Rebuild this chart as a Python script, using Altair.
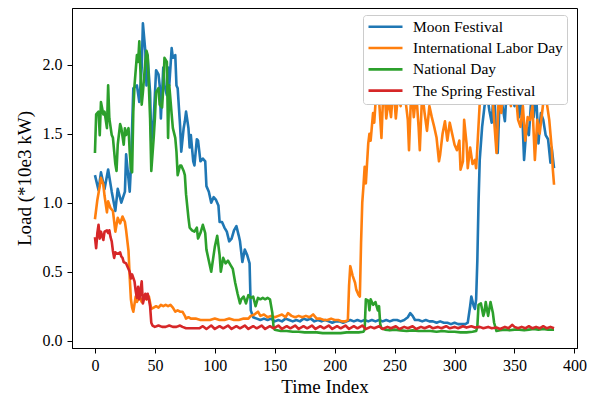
import altair as alt
import pandas as pd

names = ["Moon Festival", "International Labor Day", "National Day", "The Spring Festival"]
colors = ["#1f77b4", "#ff7f0e", "#2ca02c", "#d62728"]

x_ticks = [0, 50, 100, 150, 200, 250, 300, 350, 400]
y_ticks = [0.0, 0.5, 1.0, 1.5, 2.0]

moon_x = [0, 3, 5, 8, 11, 14, 17, 19, 22, 25, 26, 29, 30, 32, 35, 37, 39, 40, 42, 43,
          44, 46, 47, 49, 50, 51, 53, 54, 55, 57, 58, 60, 61, 62, 64, 65, 67, 68, 69, 71,
          72, 74, 75, 76, 78, 79, 80, 82, 83, 85, 86, 88, 90, 92, 93, 95, 97, 99, 101, 103,
          104, 106, 108, 110, 112, 114, 116, 118, 120, 121, 123, 125, 127, 129, 130, 132, 135, 138, 141, 144,
          147, 150, 153, 156, 159, 162, 165, 168, 171, 174, 177, 180, 183, 186, 189, 192, 195, 198, 201, 204,
          207, 210, 213, 216, 219, 222, 225, 228, 231, 234, 237, 240, 243, 246, 249, 252, 255, 258, 261, 263,
          265, 267, 270, 273, 276, 279, 282, 285, 288, 291, 294, 297, 300, 303, 306, 309, 311, 313, 314, 316,
          317, 318, 319, 320, 321, 323, 325, 327, 329, 331, 333, 335, 336, 338, 340, 342, 344, 346, 348, 350,
          352, 354, 356, 358, 360, 362, 364, 366, 368, 370, 372, 374, 376, 378, 380, 381, 383]
moon_y = [1.20, 1.09, 1.22, 1.10, 1.24, 1.08, 0.94, 1.10, 1.00, 1.08, 1.35, 1.08, 1.26, 1.83, 1.85, 1.73, 1.98, 2.30, 2.10, 1.85,
          2.05, 1.80, 1.44, 1.61, 1.78, 1.96, 1.93, 1.85, 1.61, 1.98, 1.85, 1.78, 1.98, 1.85, 2.12, 2.05, 2.07, 1.85, 1.83, 1.56,
          1.37, 1.54, 1.59, 1.66, 1.54, 1.40, 1.49, 1.30, 1.27, 1.46, 1.45, 1.30, 1.32, 1.30, 1.12, 1.08, 1.00, 1.04, 1.02, 0.98,
          0.86, 0.86, 0.82, 0.79, 0.72, 0.74, 0.80, 0.83, 0.76, 0.72, 0.57, 0.66, 0.62, 0.56, 0.22, 0.17, 0.16, 0.15, 0.16, 0.15,
          0.16, 0.14, 0.15, 0.14, 0.16, 0.15, 0.14, 0.15, 0.14, 0.16, 0.15, 0.16, 0.14, 0.15, 0.14, 0.15, 0.14, 0.13, 0.14, 0.14,
          0.13, 0.14, 0.15, 0.14, 0.15, 0.14, 0.15, 0.14, 0.15, 0.14, 0.15, 0.14, 0.15, 0.14, 0.15, 0.15, 0.14, 0.15, 0.17, 0.20,
          0.18, 0.15, 0.15, 0.14, 0.15, 0.14, 0.14, 0.13, 0.14, 0.13, 0.13, 0.12, 0.13, 0.12, 0.12, 0.12, 0.13, 0.25, 0.32, 0.25,
          0.23, 0.30, 0.58, 1.00, 1.31, 1.55, 1.70, 1.80, 1.67, 1.58, 1.85, 1.40, 1.36, 1.85, 1.70, 1.59, 1.90, 1.75, 1.85, 1.70,
          1.80, 1.62, 1.75, 1.31, 1.55, 1.49, 1.75, 1.62, 1.80, 1.43, 1.65, 1.60, 1.49, 1.46, 1.29, 1.40, 1.25]

labor_x = [0, 2, 4, 5, 7, 8, 10, 11, 13, 15, 17, 19, 21, 23, 25, 26, 28, 29, 30, 31,
           32, 34, 35, 37, 39, 41, 43, 45, 47, 49, 51, 53, 55, 57, 59, 61, 63, 65, 67, 69,
           71, 73, 75, 76, 78, 80, 84, 88, 92, 96, 100, 104, 108, 112, 116, 120, 124, 128, 130, 133,
           136, 138, 141, 144, 147, 150, 153, 156, 159, 161, 164, 167, 170, 173, 176, 179, 182, 185, 188, 191,
           194, 197, 200, 203, 206, 209, 211, 212, 213, 215, 217, 218, 220, 221, 222, 223, 224, 225, 226, 228,
           229, 230, 232, 233, 235, 237, 239, 241, 243, 245, 247, 249, 251, 253, 255, 257, 259, 261, 262, 264,
           266, 268, 270, 271, 273, 275, 277, 279, 281, 283, 285, 287, 288, 290, 292, 294, 296, 298, 300, 302,
           304, 305, 307, 308, 310, 311, 313, 315, 317, 318, 319, 321, 323, 325, 327, 329, 331, 333, 335, 337,
           339, 341, 343, 345, 347, 349, 351, 353, 355, 357, 359, 361, 363, 365, 367, 369, 371, 373, 375, 377,
           379, 381, 382, 383]
labor_y = [0.88, 1.02, 1.12, 1.18, 1.13, 1.05, 0.93, 1.01, 0.96, 0.94, 0.79, 0.89, 0.85, 0.90, 0.86, 0.80, 0.65, 0.46, 0.30, 0.24,
           0.21, 0.32, 0.28, 0.32, 0.28, 0.33, 0.30, 0.32, 0.23, 0.24, 0.25, 0.24, 0.26, 0.25, 0.26, 0.25, 0.26, 0.24, 0.21, 0.22,
           0.21, 0.21, 0.18, 0.16, 0.17, 0.16, 0.16, 0.15, 0.15, 0.15, 0.16, 0.15, 0.15, 0.16, 0.15, 0.15, 0.16, 0.16, 0.18, 0.19,
           0.21, 0.18, 0.19, 0.17, 0.18, 0.17, 0.18, 0.19, 0.17, 0.20, 0.18, 0.17, 0.18, 0.17, 0.18, 0.17, 0.19, 0.16, 0.16, 0.15,
           0.15, 0.16, 0.15, 0.15, 0.14, 0.14, 0.15, 0.40, 0.54, 0.47, 0.42, 0.37, 0.33, 0.32, 0.71, 1.00, 1.12, 1.26, 1.14, 1.43,
           1.50, 1.45, 1.65, 1.58, 1.85, 1.75, 1.47, 1.90, 1.61, 1.75, 1.62, 1.85, 1.61, 1.80, 1.70, 1.95, 1.75, 1.60, 1.38, 1.85,
           1.62, 1.80, 1.55, 1.38, 1.80, 1.65, 1.52, 1.70, 1.62, 1.55, 1.47, 1.30, 1.35, 1.50, 1.59, 1.45, 1.58, 1.50, 1.42, 1.38,
           1.45, 1.24, 1.30, 1.60, 1.43, 1.25, 1.40, 1.28, 1.31, 1.25, 1.40, 1.72, 1.90, 1.80, 1.95, 1.75, 1.85, 1.60, 1.36, 1.80,
           1.65, 1.90, 1.75, 1.85, 1.70, 1.90, 1.80, 1.60, 1.55, 1.70, 1.45, 1.62, 1.60, 1.70, 1.31, 1.60, 1.50, 1.65, 1.80, 1.72,
           1.60, 1.40, 1.24, 1.13]

national_x = [0, 1, 3, 4, 5, 7, 8, 10, 11, 12, 14, 15, 17, 18, 19, 21, 22, 24, 25, 26,
              28, 29, 30, 31, 32, 33, 35, 36, 37, 39, 40, 42, 43, 44, 46, 47, 49, 50, 51, 53,
              54, 56, 57, 58, 60, 61, 62, 64, 65, 67, 68, 69, 71, 72, 74, 75, 76, 78, 79, 81,
              83, 85, 86, 88, 90, 92, 93, 95, 97, 99, 100, 102, 104, 105, 107, 109, 111, 113, 115, 117,
              119, 121, 122, 124, 126, 128, 130, 132, 134, 136, 138, 140, 142, 144, 146, 148, 149, 150, 155, 160,
              165, 170, 175, 180, 185, 190, 195, 200, 205, 210, 215, 220, 224, 225, 226, 228, 229, 230, 232, 234,
              236, 237, 238, 239, 242, 246, 250, 255, 260, 265, 270, 275, 280, 285, 290, 295, 300, 305, 310, 315,
              318, 319, 320, 322, 324, 325, 326, 328, 330, 332, 333, 335, 338, 342, 346, 350, 354, 358, 362, 366,
              370, 374, 378, 383]
national_y = [1.36, 1.64, 1.66, 1.49, 1.73, 1.64, 1.66, 1.54, 1.85, 1.61, 1.49, 1.47, 1.28, 1.23, 1.42, 1.57, 1.54, 1.42, 1.54, 1.49,
              1.54, 1.37, 1.25, 1.22, 1.66, 1.85, 2.07, 2.02, 2.17, 1.71, 1.80, 2.02, 2.10, 2.07, 1.61, 1.23, 1.47, 1.61, 1.80, 1.83,
              1.71, 1.69, 1.83, 2.05, 2.02, 1.47, 1.85, 1.64, 1.54, 1.47, 1.37, 1.20, 1.27, 1.27, 1.23, 1.20, 1.06, 0.89, 0.82, 0.80,
              0.79, 0.82, 0.74, 0.78, 0.84, 0.78, 0.66, 0.58, 0.50, 0.62, 0.68, 0.76, 0.62, 0.50, 0.60, 0.56, 0.58, 0.55, 0.52, 0.42,
              0.34, 0.27, 0.30, 0.32, 0.27, 0.33, 0.31, 0.32, 0.25, 0.31, 0.30, 0.31, 0.30, 0.31, 0.30, 0.20, 0.10, 0.08, 0.07, 0.07,
              0.065, 0.065, 0.06, 0.06, 0.06, 0.055, 0.055, 0.055, 0.055, 0.06, 0.06, 0.06, 0.065, 0.08, 0.30, 0.29, 0.22, 0.30, 0.26, 0.28,
              0.22, 0.25, 0.12, 0.09, 0.08, 0.075, 0.08, 0.075, 0.07, 0.075, 0.07, 0.07, 0.07, 0.065, 0.07, 0.065, 0.065, 0.06, 0.06, 0.065,
              0.07, 0.10, 0.26, 0.27, 0.18, 0.21, 0.28, 0.18, 0.28, 0.20, 0.13, 0.07, 0.075, 0.08, 0.075, 0.08, 0.08, 0.075, 0.08, 0.085,
              0.08, 0.085, 0.08, 0.08]

spring_x = [0, 1, 2, 3, 4, 5, 6, 7, 8, 10, 11, 12, 13, 14, 15, 16, 17, 19, 21, 22,
            23, 24, 26, 27, 28, 29, 30, 31, 33, 34, 35, 36, 37, 39, 40, 42, 43, 44, 45, 46,
            47, 48, 50, 53, 56, 59, 62, 65, 68, 71, 73, 76, 80, 84, 87, 90, 93, 97, 100, 104,
            107, 111, 114, 118, 121, 125, 128, 132, 135, 139, 142, 146, 149, 153, 156, 160, 163, 167, 170, 174,
            177, 181, 184, 188, 191, 195, 198, 202, 205, 209, 212, 216, 219, 223, 226, 230, 233, 237, 240, 244,
            247, 251, 254, 258, 261, 265, 268, 272, 275, 279, 282, 286, 289, 293, 296, 300, 303, 307, 310, 314,
            317, 321, 324, 328, 331, 335, 338, 342, 345, 348, 350, 353, 356, 359, 362, 365, 368, 371, 374, 377,
            380, 383]
spring_y = [0.75, 0.67, 0.78, 0.84, 0.74, 0.79, 0.76, 0.73, 0.79, 0.80, 0.78, 0.80, 0.75, 0.72, 0.65, 0.60, 0.64, 0.63, 0.64, 0.61,
            0.60, 0.57, 0.56, 0.54, 0.52, 0.50, 0.45, 0.48, 0.43, 0.36, 0.31, 0.39, 0.30, 0.43, 0.27, 0.34, 0.30, 0.34, 0.30, 0.25,
            0.13, 0.11, 0.10, 0.11, 0.10, 0.10, 0.11, 0.10, 0.10, 0.11, 0.10, 0.09, 0.09, 0.09, 0.09, 0.105, 0.085, 0.11, 0.085, 0.105,
            0.09, 0.11, 0.085, 0.105, 0.09, 0.11, 0.085, 0.105, 0.09, 0.11, 0.085, 0.105, 0.09, 0.11, 0.085, 0.105, 0.09, 0.11, 0.085, 0.105,
            0.09, 0.11, 0.085, 0.105, 0.09, 0.11, 0.085, 0.105, 0.09, 0.11, 0.085, 0.105, 0.09, 0.11, 0.085, 0.10, 0.09, 0.105, 0.085, 0.10,
            0.09, 0.105, 0.085, 0.10, 0.09, 0.105, 0.085, 0.10, 0.09, 0.105, 0.09, 0.10, 0.09, 0.105, 0.09, 0.10, 0.09, 0.105, 0.095, 0.105,
            0.095, 0.10, 0.09, 0.10, 0.09, 0.095, 0.085, 0.10, 0.09, 0.115, 0.10, 0.09, 0.10, 0.09, 0.105, 0.09, 0.10, 0.09, 0.105, 0.09,
            0.10, 0.09]

series = [
    (names[0], moon_x, moon_y),
    (names[1], labor_x, labor_y),
    (names[2], national_x, national_y),
    (names[3], spring_x, spring_y),
]

FONT = "Liberation Serif"
x_scale = alt.Scale(domain=[-19.15, 402.15], nice=False, zero=False)
y_scale = alt.Scale(domain=[-0.053, 2.411], nice=False, zero=False)
color_scale = alt.Scale(domain=names, range=colors)

layers = []
for name, xs, ys in series:
    df = pd.DataFrame({"x": xs, "y": ys, "series": name})
    layer = alt.Chart(df).mark_line(strokeWidth=2.6, clip=True, strokeJoin="round").encode(
        x=alt.X("x:Q", scale=x_scale,
                axis=alt.Axis(values=x_ticks, format="d", title="Time Index",
                              labelFont=FONT, titleFont=FONT, labelFontSize=16, titleFontSize=19,
                              labelPadding=4, titlePadding=4)),
        y=alt.Y("y:Q", scale=y_scale,
                axis=alt.Axis(values=y_ticks, format=".1f", title="Load (*10e3 kW)",
                              labelFont=FONT, titleFont=FONT, labelFontSize=16, titleFontSize=19,
                              labelPadding=5, titlePadding=8)),
        color=alt.Color("series:N", scale=color_scale,
                        legend=alt.Legend(title=None, orient="none", legendX=291, legendY=7,
                                          fillColor="white", strokeColor="#cccccc", cornerRadius=3,
                                          padding=4, symbolType="stroke", symbolSize=1156,
                                          symbolStrokeWidth=2.6, clipHeight=15.5,
                                          labelFont=FONT, labelFontSize=15.5, labelColor="black",
                                          rowPadding=4.3, labelOffset=9)),
    )
    layers.append(layer)

chart = alt.layer(*layers).properties(
    width=505, height=340,
    padding={"left": 64, "top": 0, "right": 10, "bottom": 48},
    autosize=alt.AutoSizeParams(type="none"),
).configure_view(stroke="black", strokeWidth=1).configure_axis(
    grid=False, domainColor="black", tickColor="black", domainWidth=1, tickWidth=1,
    labelColor="black", titleColor="black",
    titleFontWeight="normal", tickSize=5, labelOverlap=False,
)

chart.save("out.html", embed_options={"renderer": "svg", "actions": False})
